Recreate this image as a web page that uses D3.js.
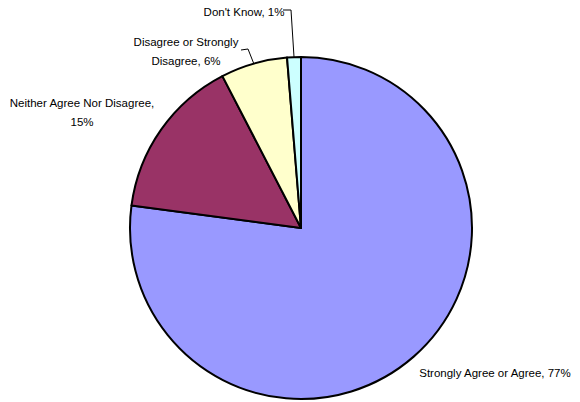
<!DOCTYPE html>
<html><head><meta charset="utf-8">
<script src="https://cdn.jsdelivr.net/npm/d3@7"></script>
<style>body{margin:0;background:#fff}svg{display:block}text{font-family:"Liberation Sans",Arial,sans-serif;font-size:11.5px;fill:#000}</style>
</head><body>
<script>
const categories = ["Strongly Agree or Agree", "Neither Agree Nor Disagree", "Disagree or Strongly Disagree", "Don't Know"];
const values = [77.1, 15.3, 6.3, 1.3];
const labelPct = ["77%", "15%", "6%", "1%"];
const colors = ["#9999FF", "#993366", "#FFFFCC", "#CCFFFF"];

const W = 580, H = 402, cx = 301, cy = 228, R = 171;
const svg = d3.select("body").append("svg").attr("width", W).attr("height", H);
const g = svg.append("g").attr("transform", `translate(${cx},${cy})`);
const pie = d3.pie().sort(null).value(d => d)(values);
const arc = d3.arc().innerRadius(0).outerRadius(R);
g.selectAll("path").data(pie).join("path")
  .attr("d", arc).attr("fill", (d, i) => colors[i])
  .attr("stroke", "#000").attr("stroke-width", 2).attr("stroke-linejoin", "round");

function edge(d, r) {
  const a = (d.startAngle + d.endAngle) / 2;
  return [cx + r * Math.sin(a), cy - r * Math.cos(a)];
}

// label layouts: lines of text with anchor positions
const labels = [
  { lines: [categories[0] + ", " + labelPct[0]], x: 495, y: [377] },
  { lines: ["Neither Agree Nor Disagree,", labelPct[1]], x: 82, y: [107, 126] },
  { lines: ["Disagree or Strongly", "Disagree, " + labelPct[2]], x: 186, y: [46, 65] },
  { lines: ["Don't Know, " + labelPct[3]], x: 244, y: [16] }
];
labels.forEach((L, i) => {
  L.lines.forEach((t, j) => {
    svg.append("text").attr("x", L.x).attr("y", L.y[j]).attr("text-anchor", "middle").text(t);
  });
});
// leader lines
const p2 = edge(pie[2], R);
svg.append("path").attr("d", `M241,50L248,49L${p2[0]},${p2[1]}`).attr("fill", "none").attr("stroke", "#000").attr("stroke-width", 1);
const p3 = edge(pie[3], R);
svg.append("path").attr("d", `M283,10L291,10L${p3[0]},${p3[1]}`).attr("fill", "none").attr("stroke", "#000").attr("stroke-width", 1);
</script>
</body></html>
